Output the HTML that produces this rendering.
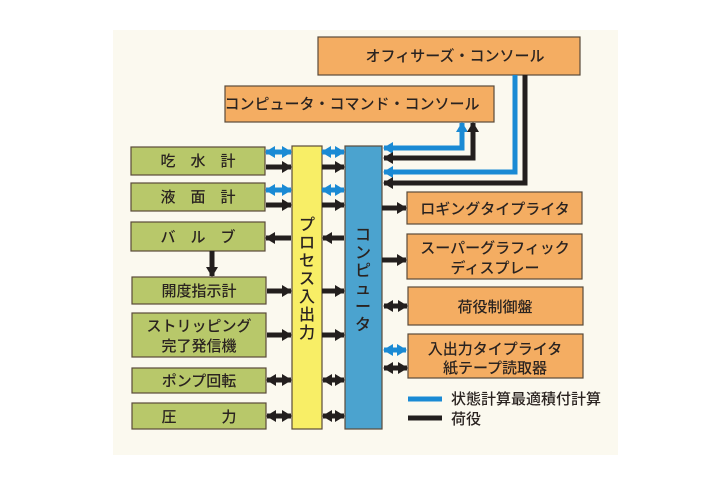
<!DOCTYPE html>
<html><head><meta charset="utf-8"><style>
body{margin:0;width:720px;height:480px;background:#fff;overflow:hidden}
svg{display:block}
text{font-family:"Liberation Sans","Noto Sans CJK JP",sans-serif;fill:#2a2320;font-weight:500}
</style></head><body>
<svg width="720" height="480" viewBox="0 0 720 480">
<defs>
<marker id="k" markerUnits="userSpaceOnUse" markerWidth="10" markerHeight="12" refX="9" refY="6" orient="auto-start-reverse"><path d="M0,0 L10,6 L0,12z" fill="#231f1e"/></marker>
<marker id="b" markerUnits="userSpaceOnUse" markerWidth="10" markerHeight="12" refX="9" refY="6" orient="auto-start-reverse"><path d="M0,0 L10,6 L0,12z" fill="#1a8ad4"/></marker>
</defs>
<rect x="113" y="30" width="505" height="425" fill="#fbf9ef"/>
<g stroke="#5a4a3a" stroke-width="1.2">
<rect x="318" y="37" width="262" height="38" fill="#f4ad62"/>
<rect x="225" y="86" width="269" height="36" fill="#f4ad62"/>
<g fill="#b8c86a">
<rect x="131" y="147" width="134" height="28"/>
<rect x="131" y="183" width="134" height="28"/>
<rect x="131" y="222" width="134" height="29"/>
<rect x="132" y="277" width="134" height="27"/>
<rect x="132" y="313" width="134" height="44"/>
<rect x="132" y="368" width="134" height="25"/>
<rect x="132" y="403" width="134" height="26"/>
</g>
<rect x="292" y="146" width="30" height="283" fill="#f8ee66"/>
<rect x="345" y="146" width="37" height="283" fill="#4ba3cf"/>
<g fill="#f4ad62">
<rect x="407" y="192" width="175" height="32"/>
<rect x="407" y="234" width="175" height="45"/>
<rect x="408" y="287" width="175" height="38"/>
<rect x="408" y="334" width="175" height="44"/>
</g>
</g>
<g stroke-width="5" fill="none">
<g stroke="#1a8ad4" marker-start="url(#b)" marker-end="url(#b)">
<line x1="266" y1="152" x2="291" y2="152"/><line x1="322" y1="152" x2="344" y2="152"/>
<line x1="266" y1="190" x2="291" y2="190"/><line x1="322" y1="190" x2="344" y2="190"/>
<line x1="384" y1="350" x2="406" y2="350"/>
</g>
<g stroke="#231f1e" marker-end="url(#k)">
<line x1="266" y1="167" x2="291" y2="167"/><line x1="322" y1="167" x2="344" y2="167"/>
<line x1="266" y1="205" x2="291" y2="205"/><line x1="322" y1="205" x2="344" y2="205"/>
<line x1="291" y1="238" x2="266" y2="238"/><line x1="344" y1="238" x2="323" y2="238"/>
<line x1="267" y1="291" x2="291" y2="291"/><line x1="322" y1="291" x2="344" y2="291"/>
<line x1="267" y1="335" x2="291" y2="335"/><line x1="322" y1="335" x2="344" y2="335"/>
<line x1="382" y1="208" x2="406" y2="208"/>
<line x1="382" y1="260" x2="406" y2="260"/>
<line x1="212" y1="251" x2="212" y2="276"/>
</g>
<g stroke="#231f1e" marker-start="url(#k)" marker-end="url(#k)">
<line x1="267" y1="380" x2="291" y2="380"/><line x1="323" y1="380" x2="344" y2="380"/>
<line x1="267" y1="416" x2="291" y2="416"/><line x1="323" y1="416" x2="344" y2="416"/>
<line x1="384" y1="306" x2="407" y2="306"/>
<line x1="384" y1="368" x2="407" y2="368"/>
</g>
<polyline stroke="#1a8ad4" points="384,148 462,148 462,123" marker-start="url(#b)" marker-end="url(#b)"/>
<polyline stroke="#231f1e" points="384,158 473,158 473,123" marker-start="url(#k)" marker-end="url(#k)"/>
<polyline stroke="#1a8ad4" points="515,75 515,172 384,172" marker-end="url(#b)"/>
<polyline stroke="#231f1e" points="525,75 525,183 384,183" marker-end="url(#k)"/>
<line x1="408" y1="399" x2="442" y2="399" stroke="#1a8ad4"/>
<line x1="408" y1="418" x2="442" y2="418" stroke="#231f1e"/>
</g>
<g font-size="15" text-anchor="middle">
<text x="455" y="61">オフィサーズ・コンソール</text>
<text x="352" y="109">コンピュータ・コマンド・コンソール</text>
<text x="198" y="166">吃　水　計</text>
<text x="198" y="202">液　面　計</text>
<text x="198" y="242">バ　ル　ブ</text>
<text x="199" y="296">開度指示計</text>
<text x="199" y="331">ストリッピング</text>
<text x="199" y="351">完了発信機</text>
<text x="199" y="386">ポンプ回転</text>
<text x="199" y="422">圧　　　力</text>
<text x="495" y="214">ロギングタイプライタ</text>
<text x="495" y="253">スーパーグラフィック</text>
<text x="495" y="273">ディスプレー</text>
<text x="495" y="312">荷役制御盤</text>
<text x="495" y="354">入出力タイプライタ</text>
<text x="495" y="373">紙テープ読取器</text>
</g>
<g font-size="16" text-anchor="middle">
<text x="307" y="230">プ</text><text x="307" y="248">ロ</text><text x="307" y="266">セ</text><text x="307" y="284">ス</text><text x="307" y="302">入</text><text x="307" y="320">出</text><text x="307" y="338">力</text>
<text x="363" y="240">コ</text><text x="363" y="258">ン</text><text x="363" y="276">ピ</text><text x="363" y="294">ュ</text><text x="363" y="312">ー</text><text x="363" y="330">タ</text>
</g>
<g font-size="15"><text x="451" y="404">状態計算最適積付計算</text><text x="451" y="424">荷役</text></g>
</svg>
</body></html>
